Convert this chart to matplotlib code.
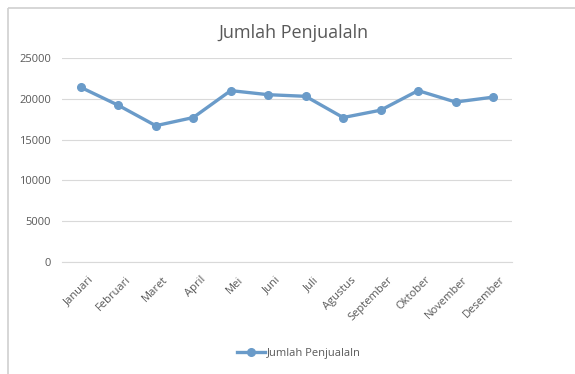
import matplotlib
matplotlib.use("Agg")
import matplotlib.pyplot as plt
import matplotlib.transforms as mtransforms
from matplotlib.lines import Line2D

months = ["Januari", "Februari", "Maret", "April", "Mei", "Juni", "Juli",
          "Agustus", "September", "Oktober", "November", "Desember"]
sales = [21400, 19200, 16700, 17700, 21000, 20500, 20300,
         17700, 18600, 21000, 19600, 20200]
yticks = [0, 5000, 10000, 15000, 20000, 25000]

plt.rcParams['font.family'] = ['Open Sans', 'DejaVu Sans']
fig = plt.figure(figsize=(5.75, 3.74), dpi=100)
ax = fig.add_axes([0.108, 0.2995, 0.782, 0.5455])

x = list(range(len(months)))
line, = ax.plot(x, sales, color='#6A9BC9', linewidth=2.4, marker='o',
                markersize=5.5, label='Jumlah Penjualaln')
ax.set_xlim(-0.5, len(months) - 0.5)
ax.set_ylim(0, 25000)
ax.set_yticks(yticks)
ax.set_yticklabels([str(v) for v in yticks], fontsize=8, color='#595959')
ax.set_xticks(x)
ax.set_xticklabels(months, rotation=45, ha='right', rotation_mode='anchor',
                   fontsize=8, color='#595959')
ax.tick_params(axis='y', length=0, pad=8)
ax.tick_params(axis='x', length=0, pad=4)
offset = mtransforms.ScaledTranslation(5 / 72, -5 / 72, fig.dpi_scale_trans)
for lbl in ax.get_xticklabels():
    lbl.set_transform(lbl.get_transform() + offset)
ax.grid(axis='y', color='#D9D9D9', linewidth=0.8)
ax.set_axisbelow(True)
for s in ['top', 'right', 'left']:
    ax.spines[s].set_visible(False)
ax.spines['bottom'].set_color('#D9D9D9')
ax.spines['bottom'].set_linewidth(0.8)

fig.text(0.51, 0.912, 'Jumlah Penjualaln', ha='center', va='center',
         fontsize=13, color='#595959')
fig.legend(handles=[line], loc='center', bbox_to_anchor=(0.52, 0.055),
           frameon=False, fontsize=8, labelcolor='#595959',
           handlelength=2.5, handletextpad=0.2)

bx, by = 7.5 / 575, 1 - 7.5 / 374
fig.add_artist(Line2D([bx, bx], [-0.1, by], transform=fig.transFigure,
                      color='#D0D0D0', linewidth=1.2, solid_capstyle='butt'))
fig.add_artist(Line2D([bx, 1.1], [by, by], transform=fig.transFigure,
                      color='#D0D0D0', linewidth=1.2, solid_capstyle='butt'))
fig.savefig('out.png', dpi=100)
